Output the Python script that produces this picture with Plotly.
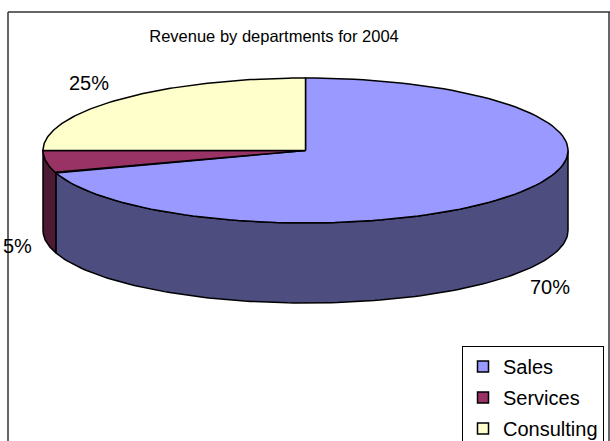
import numpy as np
import plotly.graph_objects as go

# ---- data ----
departments = ["Sales", "Services", "Consulting"]
revenue_share = [70, 5, 25]
title_text = "Revenue by departments for 2004"

# ---- style ----
top_colors = ["#9999FF", "#993366", "#FFFFCC"]
side_colors = ["#4D4D80", "#4D1A33", "#80805F"]
FONT = "Liberation Sans, Arial, sans-serif"

# pie geometry in pixel-like axis units
CX, CY, RX, RY, DEPTH = 305.5, 150.5, 262.5, 72.5, 80.0
LRX, LRY = 276.0, 96.0  # label ellipse

W, H = 610, 441


def arc(a, b, n=120, dy=0.0):
    t = np.radians(np.linspace(a, b, n))
    return CX + RX * np.cos(t), CY - RY * np.sin(t) + dy


fig = go.Figure()

total = float(sum(revenue_share))
start = 90.0
spans = []
for v in revenue_share:
    end = start - v / total * 360.0
    spans.append((end, start))
    start = end

# side faces (front half only: math angle in [-180, 0] modulo 360)
for (a, b), col in zip(spans, side_colors):
    for k in (-1, 0, 1):
        lo, hi = -180 + 360 * k, 0 + 360 * k
        ia, ib = max(a, lo), min(b, hi)
        if ib - ia > 1e-6:
            tx, ty = arc(ia, ib)
            bx, by = arc(ia, ib, dy=DEPTH)
            xs = np.concatenate([tx, bx[::-1], tx[:1]])
            ys = np.concatenate([ty, by[::-1], ty[:1]])
            fig.add_trace(go.Scatter(x=xs, y=ys, mode="lines", fill="toself",
                                     fillcolor=col, line=dict(color="black", width=1.5),
                                     hoverinfo="skip", showlegend=False))

# top faces
for (a, b), col, name in zip(spans, top_colors, departments):
    ax_, ay_ = arc(b, a)
    xs = np.concatenate([[CX], ax_, [CX]])
    ys = np.concatenate([[CY], ay_, [CY]])
    fig.add_trace(go.Scatter(x=xs, y=ys, mode="lines", fill="toself",
                             fillcolor=col, line=dict(color="black", width=1.5),
                             hoverinfo="skip", showlegend=False, name=name))

# percentage labels
annotations = []
for (a, b), v in zip(spans, revenue_share):
    m = np.radians((a + b) / 2.0)
    c, s = np.cos(m), np.sin(m)
    lx = CX + LRX * c
    ly = CY - LRY * s + (DEPTH if s < 0 else 0.0)
    annotations.append(dict(x=lx, y=ly, xref="x", yref="y", showarrow=False,
                            text=f"{v / total * 100:.0f}%", borderpad=0,
                            xanchor="right" if c < 0 else "left", yanchor="middle",
                            font=dict(family=FONT, size=20, color="black")))

# legend entries
for name, col in zip(departments, top_colors):
    fig.add_trace(go.Scatter(x=[None], y=[None], mode="markers", name=name,
                             legendgroup=name,
                             marker=dict(symbol="square", size=11, color=col,
                                         line=dict(color="black", width=1.5))))

frame = dict(color="#333333", width=1.5)
fig.update_layout(
    width=W, height=H,
    margin=dict(l=0, r=0, t=0, b=0, autoexpand=False),
    paper_bgcolor="white", plot_bgcolor="white",
    xaxis=dict(range=[0, W], visible=False, fixedrange=True),
    yaxis=dict(range=[H, 0], visible=False, fixedrange=True),
    title=dict(text=title_text, x=274 / W, xanchor="center", y=1 - 36 / H, yanchor="middle",
               font=dict(family=FONT, size=16.5, color="black")),
    legend=dict(x=462 / W, y=1 - 346 / H, xanchor="left", yanchor="top",
                bgcolor="white", bordercolor="black", borderwidth=1,
                font=dict(family=FONT, size=20, color="black"),
                tracegroupgap=2, itemwidth=30),
    annotations=annotations,
    shapes=[
        dict(type="line", xref="paper", yref="paper", x0=8 / W, x1=1, y0=1 - 12 / H, y1=1 - 12 / H,
             line=frame, layer="below"),
        dict(type="line", xref="paper", yref="paper", x0=8 / W, x1=8 / W, y0=1 - 12 / H, y1=0,
             line=frame, layer="below"),
        dict(type="line", xref="paper", yref="paper", x0=609 / W, x1=609 / W, y0=1 - 12 / H, y1=0,
             line=frame, layer="below"),
    ],
    showlegend=True,
)

fig.write_html("out.html", config={"displayModeBar": False},
               post_script="document.body.style.margin='0';document.body.style.overflow='hidden';")
